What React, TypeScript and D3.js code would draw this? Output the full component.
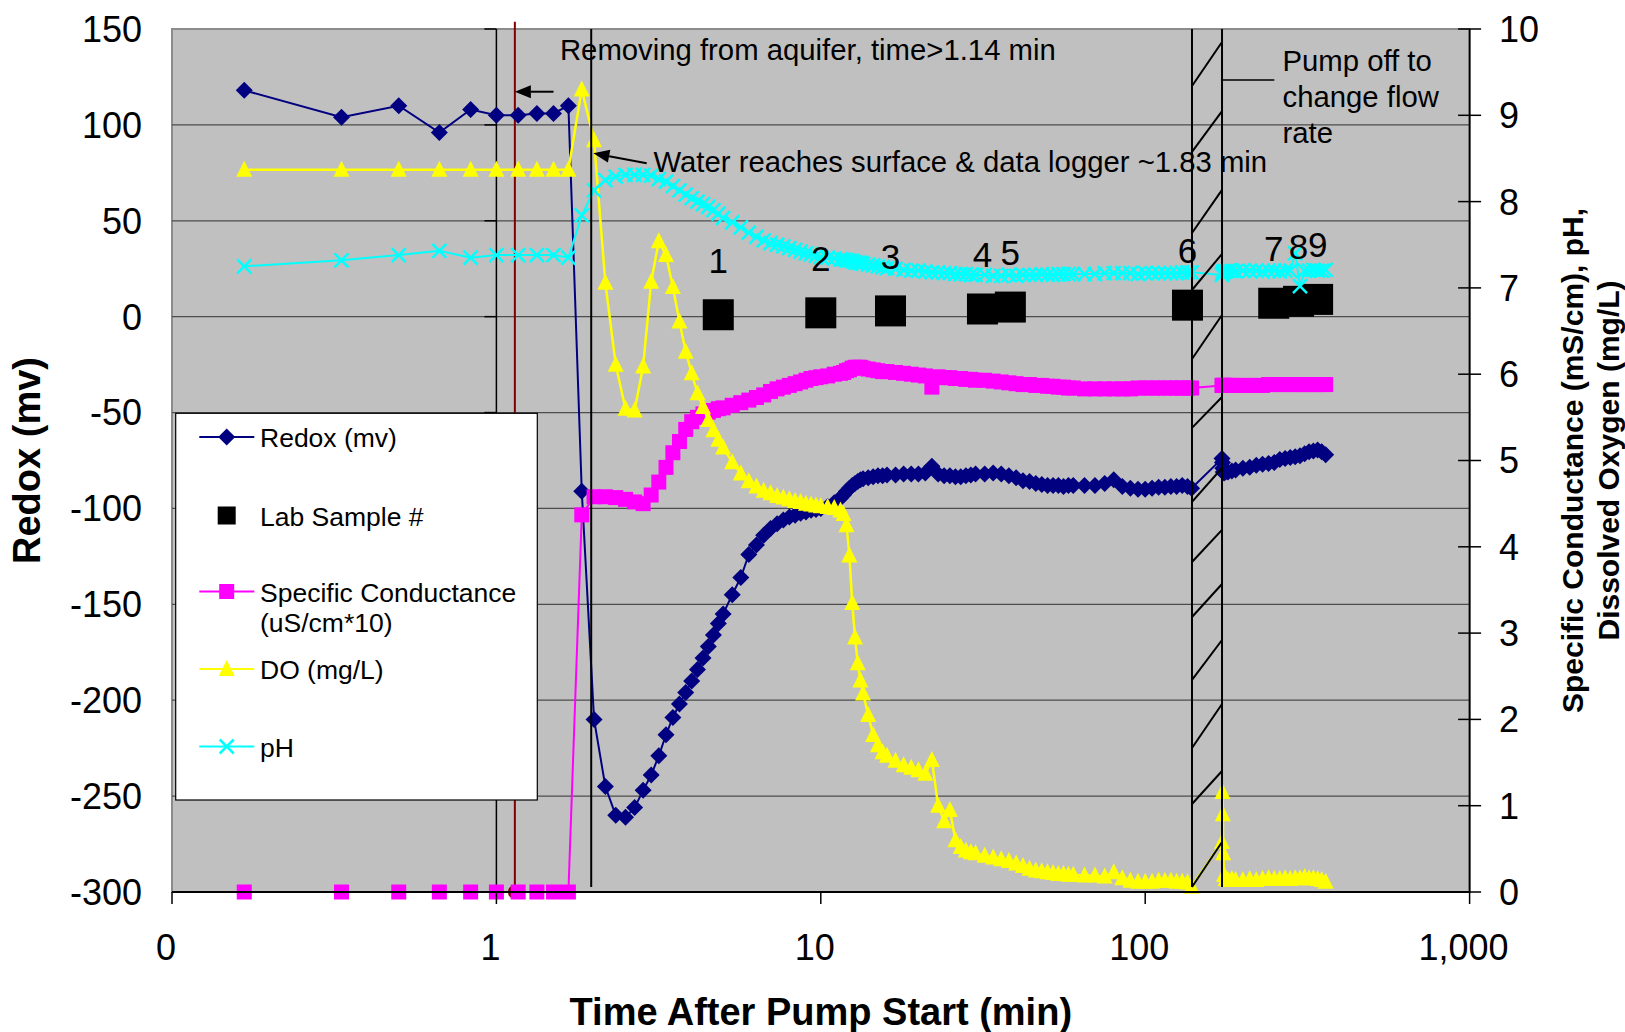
import React from 'react';
import * as d3 from 'd3';

// Logger readings, time in minutes after pump start (rows of 10)
const timeMin = [
  0.167, 0.333, 0.5, 0.667, 0.833, 1.0, 1.167, 1.333, 1.5, 1.667,
  1.833, 2.0, 2.167, 2.333, 2.5, 2.667, 2.833, 3.0, 3.167, 3.333,
  3.5, 3.667, 3.833, 4.0, 4.167, 4.333, 4.5, 4.667, 4.833, 5.0,
  5.333, 5.667, 6.0, 6.333, 6.667, 7.0, 7.333, 7.667, 8.0, 8.333,
  8.667, 9.0, 9.333, 9.667, 10.0, 10.5, 11.0, 11.5, 11.75, 12.0,
  12.25, 12.5, 12.75, 13.0, 13.25, 13.5, 14.0, 14.5, 15.0, 15.5,
  16, 17, 18, 19, 20, 21, 22, 23, 24, 25,
  26, 27, 28, 29, 30, 32, 34, 36, 38, 40,
  42, 44, 46, 48, 50, 52, 54, 56, 58, 60,
  65, 70, 75, 80, 85, 90, 95, 100, 105, 110,
  115, 120, 125, 130, 135, 139, 172.5, 173, 173.5, 174,
  175, 177, 180, 185, 190, 200, 210, 220, 230, 240,
  250, 260, 270, 280, 290, 300, 310, 320, 330, 340,
  350, 360,
];

const redoxMv = [
  118, 104, 110, 96, 108, 105, 105, 106, 106, 110,
  -91, -210, -245, -260, -261, -256, -247, -239, -229, -218,
  -209, -202, -196, -190, -184, -178, -172, -166, -160, -155,
  -145, -136, -124, -119, -114, -110.5, -108, -106, -104.5, -103.5,
  -102.5, -101.8, -101, -100.5, -100, -99, -97, -94.5, -93, -91,
  -89.5, -88, -87, -86, -85, -84.5, -84, -83.5, -83, -83,
  -82.5, -82.5, -82, -82, -82, -81.5, -78, -82, -83, -83,
  -83.5, -83.5, -83, -82.5, -82, -82, -81.5, -82, -83, -84,
  -85.5, -86, -87, -87.5, -88, -88, -88, -88.5, -88, -88,
  -88, -88, -87, -85, -88.5, -89.5, -90, -90, -89.5, -89,
  -89, -88.5, -88.5, -88, -88.5, -89.5, -74, -76, -79, -81,
  -81.5, -81, -81, -80.5, -80, -79, -78.5, -77.5, -77, -76.5,
  -76, -74.5, -74, -73.5, -73, -72.5, -71.5, -70.5, -70, -69.5,
  -70.5, -72,
];

const condMsCm = [
  0, 0, 0, 0, 0, 0, 0, 0, 0, 0,
  4.37, 4.58, 4.58, 4.57, 4.55, 4.52, 4.5, 4.6, 4.75, 4.92,
  5.09, 5.22, 5.36, 5.45, 5.5, 5.54, 5.56, 5.58, 5.6, 5.61,
  5.64, 5.67, 5.7, 5.73, 5.76, 5.8, 5.83, 5.85, 5.87, 5.89,
  5.91, 5.93, 5.95, 5.96, 5.97, 5.98, 6.0, 6.01, 6.02, 6.04,
  6.05, 6.07, 6.08, 6.08, 6.08, 6.07, 6.06, 6.05, 6.04, 6.03,
  6.03, 6.02, 6.01, 6.0, 5.99, 5.98, 5.85, 5.97, 5.96, 5.96,
  5.95, 5.95, 5.94, 5.94, 5.93, 5.93, 5.92, 5.91, 5.9, 5.89,
  5.88, 5.88, 5.87, 5.87, 5.86, 5.86, 5.85, 5.85, 5.84, 5.84,
  5.83, 5.83, 5.83, 5.83, 5.83, 5.83, 5.84, 5.84, 5.84, 5.84,
  5.84, 5.84, 5.84, 5.84, 5.84, 5.84, 5.87, 5.87, 5.87, 5.87,
  5.87, 5.87, 5.87, 5.87, 5.87, 5.87, 5.87, 5.87, 5.87, 5.88,
  5.88, 5.88, 5.88, 5.88, 5.88, 5.88, 5.88, 5.88, 5.88, 5.88,
  5.88, 5.88,
];

const doMgL = [
  8.37, 8.37, 8.37, 8.37, 8.37, 8.37, 8.37, 8.37, 8.37, 8.37,
  9.3, 8.71, 7.06, 6.11, 5.6, 5.58, 6.09, 7.07, 7.54, 7.38,
  7.01, 6.61, 6.26, 6.01, 5.78, 5.62, 5.47, 5.35, 5.24, 5.15,
  4.98, 4.85, 4.76, 4.7, 4.65, 4.62, 4.59, 4.57, 4.55, 4.53,
  4.52, 4.5, 4.49, 4.48, 4.47, 4.46, 4.45, 4.42, 4.38, 4.25,
  3.9, 3.35, 2.95, 2.65, 2.45, 2.3, 2.05, 1.82, 1.7, 1.62,
  1.58, 1.52, 1.47, 1.44, 1.41, 1.37, 1.53, 1.0, 0.82, 0.95,
  0.6, 0.52, 0.48, 0.46, 0.45, 0.42, 0.4, 0.38, 0.36, 0.33,
  0.3, 0.27, 0.25, 0.24, 0.23, 0.22, 0.21, 0.21, 0.2, 0.2,
  0.19, 0.19, 0.18, 0.23, 0.16, 0.13, 0.12, 0.12, 0.12, 0.13,
  0.13, 0.13, 0.12, 0.12, 0.11, 0.06, 0.58, 1.16, 0.9, 0.45,
  0.2, 0.15, 0.14, 0.15, 0.14, 0.14, 0.15, 0.14, 0.15, 0.16,
  0.15, 0.15, 0.16, 0.15, 0.16, 0.16, 0.17, 0.16, 0.16, 0.15,
  0.14, 0.12,
];

const phUnits = [
  7.25, 7.32, 7.38, 7.43, 7.35, 7.38, 7.38, 7.38, 7.38, 7.35,
  7.84, 8.13, 8.25, 8.29, 8.31, 8.31, 8.31, 8.3, 8.26, 8.23,
  8.18, 8.13, 8.08, 8.04, 8.0, 7.97, 7.94, 7.9, 7.86, 7.81,
  7.76, 7.7, 7.64, 7.59, 7.55, 7.52, 7.5, 7.48, 7.46, 7.44,
  7.42, 7.4, 7.39, 7.37, 7.36, 7.35, 7.34, 7.33, 7.33, 7.32,
  7.32, 7.31, 7.3, 7.29, 7.29, 7.28, 7.27, 7.26, 7.25, 7.24,
  7.23, 7.22, 7.21, 7.2, 7.2, 7.19, 7.18, 7.18, 7.17, 7.17,
  7.16, 7.16, 7.16, 7.15, 7.15, 7.15, 7.14, 7.14, 7.15, 7.14,
  7.15, 7.15, 7.15, 7.16, 7.15, 7.15, 7.16, 7.16, 7.16, 7.16,
  7.16, 7.16, 7.17, 7.17, 7.17, 7.17, 7.16, 7.17, 7.17, 7.17,
  7.17, 7.17, 7.17, 7.18, 7.18, 7.18, 7.15, 7.16, 7.18, 7.19,
  7.19, 7.19, 7.2, 7.2, 7.19, 7.2, 7.2, 7.2, 7.19, 7.2,
  7.2, 7.19, 7.2, 7.2, 7.4, 7.02, 7.2, 7.2, 7.21, 7.2,
  7.2, 7.21,
];

// Lab samples (plotted at y = sample number on the redox axis)
const sampleTime = [4.83, 10.0, 16.4, 31.5, 38.4, 135, 249, 297, 340];
const sampleNumber = [1, 2, 3, 4, 5, 6, 7, 8, 9];

const leftTicks = [-300, -250, -200, -150, -100, -50, 0, 50, 100, 150];
const rightTicks = [0, 1, 2, 3, 4, 5, 6, 7, 8, 9, 10];
const xTicks = [0.1, 1, 10, 100, 1000];
const xTickLabels = ['0', '1', '10', '100', '1,000'];

// annotation lines
const aquiferTime = 1.14;
const surfaceTime = 1.96;
const pumpOffTimes = [139.4, 172.5];
const hatchLeftMv = [120.3, 85.9, 43.6, 13.9, -22.1, -58, -96.6, -127.9, -156.6, -189.4, -224.9, -254.1, -297.4];
const hatchRightMv = [143.2, 107.2, 66.1, 32.7, 0.9, -41.9, -78.9, -111.2, -139.4, -168.6, -202, -236.9, -273.9];

const W = 1625;
const H = 1032;
const left = 172;
const right = 1469.6;
const top = 29;
const bottom = 892;
const FONT = "'Liberation Sans', Arial, sans-serif";

const NAVY = '#000080';
const MAGENTA = '#ff00ff';
const YELLOW = '#ffff00';
const CYAN = '#00ffff';

const x = d3.scaleLog().domain([0.1, 1000]).range([left, right]);
const yL = d3.scaleLinear().domain([-300, 150]).range([bottom, top]);
const yR = d3.scaleLinear().domain([0, 10]).range([bottom, top]);

const diamond = 'M0,-8.5L8.5,0L0,8.5L-8.5,0Z';
const triangle = 'M0,-9L8,7L-8,7Z';

const Arrow = ({ x1, y1, x2, y2 }: { x1: number; y1: number; x2: number; y2: number }) => {
  const a = Math.atan2(y2 - y1, x2 - x1);
  const len = 16;
  const hw = 6.5;
  const bx = x2 - len * Math.cos(a);
  const by = y2 - len * Math.sin(a);
  const px = -Math.sin(a) * hw;
  const py = Math.cos(a) * hw;
  return (
    <g>
      <line x1={x1} y1={y1} x2={bx} y2={by} stroke="#000" strokeWidth={2} />
      <path d={`M${x2},${y2}L${bx + px},${by + py}L${bx - px},${by - py}Z`} fill="#000" />
    </g>
  );
};

const Marker = ({ kind, color }: { kind: string; color: string }) => {
  if (kind === 'diamond') return <path d={diamond} fill={color} />;
  if (kind === 'square') return <rect x={-7.5} y={-7.5} width={15} height={15} fill={color} />;
  if (kind === 'triangle') return <path d={triangle} fill={color} />;
  return (
    <g stroke={color} strokeWidth={2.5}>
      <line x1={-7} y1={-7} x2={7} y2={7} />
      <line x1={-7} y1={7} x2={7} y2={-7} />
    </g>
  );
};

export default function App() {
  const lineL = d3.line<number>().x((_, i) => x(timeMin[i])).y(d => yL(d));
  const lineR = d3.line<number>().x((_, i) => x(timeMin[i])).y(d => yR(d));

  const series = [
    { values: redoxMv, scale: yL, path: lineL(redoxMv), color: NAVY, kind: 'diamond', width: 2 },
    { values: condMsCm, scale: yR, path: lineR(condMsCm), color: MAGENTA, kind: 'square', width: 2 },
    { values: doMgL, scale: yR, path: lineR(doMgL), color: YELLOW, kind: 'triangle', width: 2.5 },
    { values: phUnits, scale: yR, path: lineR(phUnits), color: CYAN, kind: 'x', width: 2 },
  ];

  const renderSeries = (s: typeof series[number]) => (
    <g key={s.color}>
      <path d={s.path || ''} fill="none" stroke={s.color} strokeWidth={s.width} />
      {s.values.map((v, i) => (
        <g key={i} transform={`translate(${x(timeMin[i])},${s.scale(v)})`}>
          <Marker kind={s.kind} color={s.color} />
        </g>
      ))}
    </g>
  );

  const legendItems = [
    { label: ['Redox (mv)'], y: 437, color: NAVY, kind: 'diamond', line: true },
    { label: ['Lab Sample #'], y: 515.5, color: '#000', kind: 'big', line: false },
    { label: ['Specific Conductance', '(uS/cm*10)'], y: 591.5, color: MAGENTA, kind: 'square', line: true },
    { label: ['DO (mg/L)'], y: 669, color: YELLOW, kind: 'triangle', line: true },
    { label: ['pH'], y: 746.5, color: CYAN, kind: 'x', line: true },
  ];

  return (
    <div>
      <style>{'body{margin:0}'}</style>
      <svg width={W} height={H} style={{ display: 'block', background: '#fff' }} fontFamily={FONT}>
        {/* plot area */}
        <rect x={left} y={top} width={right - left} height={bottom - top} fill="#c0c0c0" stroke="#8c8c8c" strokeWidth={2} />
        {leftTicks.filter(t => t > -300 && t < 150).map(t => (
          <line key={t} x1={left} x2={right} y1={yL(t)} y2={yL(t)} stroke="#4d4d4d" strokeWidth={1.3} />
        ))}

        {/* value axis crossing at x = 1 */}
        <line x1={x(1)} x2={x(1)} y1={top} y2={bottom} stroke="#000" strokeWidth={1.5} />
        {leftTicks.map(t => (
          <line key={t} x1={x(1) - 12} x2={x(1)} y1={yL(t)} y2={yL(t)} stroke="#000" strokeWidth={1.5} />
        ))}

        {/* aquifer marker line */}
        <line x1={x(aquiferTime)} x2={x(aquiferTime)} y1={yL(-300)} y2={yL(153.8)} stroke="#800000" strokeWidth={2} />
        <circle cx={x(aquiferTime)} cy={yL(-300)} r={7} fill="#800000" />

        {/* data series */}
        {renderSeries(series[0])}
        {sampleTime.map((t, i) => (
          <rect key={i} x={x(t) - 15.5} y={yL(sampleNumber[i]) - 15.5} width={31} height={31} fill="#000" />
        ))}
        {renderSeries(series[1])}
        {renderSeries(series[2])}
        {renderSeries(series[3])}

        {/* sample labels */}
        {sampleTime.map((t, i) => (
          <text key={i} x={x(t)} y={yL(sampleNumber[i]) - 42} textAnchor="middle" fontSize={35} fill="#000">
            {sampleNumber[i]}
          </text>
        ))}

        {/* water at surface line */}
        <line x1={x(surfaceTime)} x2={x(surfaceTime)} y1={top} y2={yL(-297.4)} stroke="#000" strokeWidth={2} />

        {/* pump off break */}
        {pumpOffTimes.map(t => (
          <line key={t} x1={x(t)} x2={x(t)} y1={top} y2={yL(-297.4)} stroke="#000" strokeWidth={2} />
        ))}
        {hatchLeftMv.map((v, i) => (
          <line key={i} x1={x(pumpOffTimes[0])} y1={yL(v)} x2={x(pumpOffTimes[1])} y2={yL(hatchRightMv[i])} stroke="#000" strokeWidth={2} />
        ))}
        <line x1={x(172.5)} x2={x(250)} y1={yL(123.4)} y2={yL(123.4)} stroke="#000" strokeWidth={1.5} />

        {/* annotations */}
        <text x={x(1.57)} y={yL(133.8)} fontSize={29.3} fill="#000">Removing from aquifer, time&gt;1.14 min</text>
        <Arrow x1={x(1.5)} y1={yL(117.3)} x2={x(aquiferTime)} y2={yL(117.3)} />
        <text x={x(3.05)} y={yL(75.6)} fontSize={29.3} fill="#000">Water reaches surface &amp; data logger ~1.83 min</text>
        <Arrow x1={x(2.906)} y1={yL(80)} x2={x(1.99)} y2={yL(85.2)} />
        <text x={x(265)} y={yL(128.3)} fontSize={29.3} fill="#000">
          <tspan x={x(265)}>Pump off to</tspan>
          <tspan x={x(265)} dy={36}>change flow</tspan>
          <tspan x={x(265)} dy={36.5}>rate</tspan>
        </text>

        {/* axes */}
        <line x1={left} x2={right} y1={bottom} y2={bottom} stroke="#000" strokeWidth={1.8} />
        <line x1={right} x2={right} y1={top} y2={bottom} stroke="#000" strokeWidth={1.8} />
        {xTicks.map((t, i) => (
          <g key={t}>
            <line x1={x(t)} x2={x(t)} y1={bottom} y2={bottom + 12} stroke="#000" strokeWidth={1.5} />
            <text x={x(t) - 6} y={960} textAnchor="middle" fontSize={36} fill="#000">{xTickLabels[i]}</text>
          </g>
        ))}
        {rightTicks.map(t => (
          <g key={t}>
            <line x1={right - 11.5} x2={right + 11.5} y1={yR(t)} y2={yR(t)} stroke="#000" strokeWidth={1.5} />
            <text x={1499} y={yR(t) + 12.9} fontSize={36} fill="#000">{t}</text>
          </g>
        ))}
        {leftTicks.map(t => (
          <text key={t} x={142} y={yL(t) + 12.9} textAnchor="end" fontSize={36} fill="#000">{t}</text>
        ))}

        {/* axis titles */}
        <text x={(left + right) / 2} y={1025} textAnchor="middle" fontSize={38} fontWeight="bold" fill="#000">
          Time After Pump Start (min)
        </text>
        <text transform={`translate(40,${(top + bottom) / 2}) rotate(-90)`} textAnchor="middle" fontSize={38} fontWeight="bold" fill="#000">
          Redox (mv)
        </text>
        <text transform={`translate(1583,${(top + bottom) / 2}) rotate(-90)`} textAnchor="middle" fontSize={30} fontWeight="bold" fill="#000">
          <tspan x={0} y={0}>Specific Conductance (mS/cm), pH,</tspan>
          <tspan x={0} y={36}>Dissolved Oxygen (mg/L)</tspan>
        </text>

        {/* legend */}
        <rect x={175.7} y={413.3} width={361.6} height={386.7} fill="#fff" stroke="#000" strokeWidth={1.2} />
        {legendItems.map(item => (
          <g key={item.label[0]}>
            {item.line && <line x1={199.3} x2={254.3} y1={item.y} y2={item.y} stroke={item.color} strokeWidth={2} />}
            <g transform={`translate(226.7,${item.y})`}>
              {item.kind === 'big'
                ? <rect x={-9} y={-9} width={18} height={18} fill="#000" />
                : <Marker kind={item.kind} color={item.color} />}
            </g>
            <text x={260} y={item.y + 10} fontSize={26.5} fill="#000">
              {item.label.map((l, j) => (
                <tspan key={j} x={260} dy={j === 0 ? 0 : 30}>{l}</tspan>
              ))}
            </text>
          </g>
        ))}
      </svg>
    </div>
  );
}
